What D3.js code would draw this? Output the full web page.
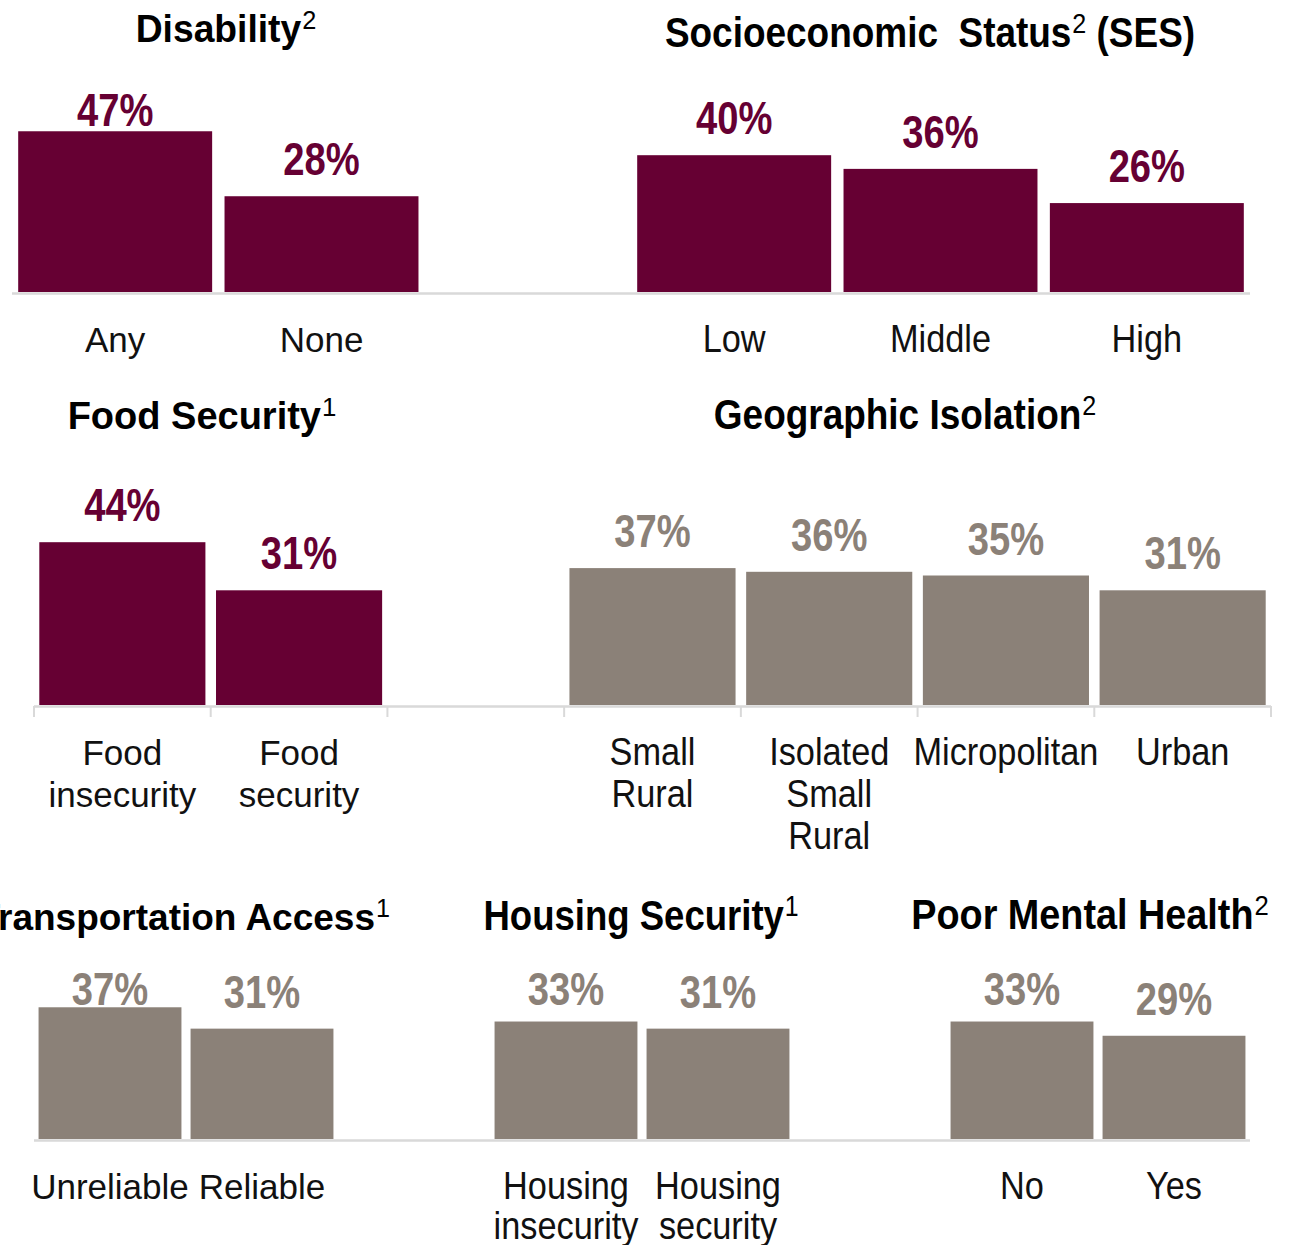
<!DOCTYPE html>
<html>
<head>
<meta charset="utf-8">
<script src="https://cdn.jsdelivr.net/npm/d3@7"></script>
<style>
  html, body { margin: 0; padding: 0; background: #ffffff; }
  svg { display: block; }
  text { font-family: "Liberation Sans", Arial, sans-serif; }
</style>
</head>
<body>
<svg id="chart" width="1296" height="1245"></svg>
<script>
// ---------------- DATA ----------------
const disabilityCategories = ["Any", "None"];
const disabilityValues = [47, 28];

const sesCategories = ["Low", "Middle", "High"];
const sesValues = [40, 36, 26];

const foodCategories = ["Food\ninsecurity", "Food\nsecurity"];
const foodValues = [44, 31];

const geoCategories = ["Small\nRural", "Isolated\nSmall\nRural", "Micropolitan", "Urban"];
const geoValues = [37, 36, 35, 31];

const transportCategories = ["Unreliable", "Reliable"];
const transportValues = [37, 31];

const housingCategories = ["Housing\ninsecurity", "Housing\nsecurity"];
const housingValues = [33, 31];

const mentalCategories = ["No", "Yes"];
const mentalValues = [33, 29];

const panelTitles = {
  disability: ["Disability", "2", ""],
  ses: ["Socioeconomic\u00A0\u00A0Status", "2", " (SES)"],
  food: ["Food Security", "1", ""],
  geo: ["Geographic Isolation", "2", ""],
  transport: ["Transportation Access", "1", ""],
  housing: ["Housing Security", "1", ""],
  mental: ["Poor Mental Health", "2", ""]
};

// ---------------- STYLE / LAYOUT ----------------
const MAROON = "#660033";
const GRAY = "#8b8178";
const AXIS = "#d9d9d9";

const panels = {
  disability: { cats: disabilityCategories, vals: disabilityValues, color: MAROON, narrow: false,
                title: { size: 38, sx: 0.98, x: 226, y: 42, anchor: "middle" } },
  ses:        { cats: sesCategories, vals: sesValues, color: MAROON, narrow: true,
                title: { size: 42, sx: 0.88, x: 930, y: 47, anchor: "middle" } },
  food:       { cats: foodCategories, vals: foodValues, color: MAROON, narrow: false,
                title: { size: 38, sx: 1.0, x: 202, y: 429, anchor: "middle" } },
  geo:        { cats: geoCategories, vals: geoValues, color: GRAY, narrow: true,
                title: { size: 42, sx: 0.88, x: 905, y: 429, anchor: "middle" } },
  transport:  { cats: transportCategories, vals: transportValues, color: GRAY, narrow: false,
                title: { size: 37, sx: 1.0, x: 390, y: 930, anchor: "end" } },
  housing:    { cats: housingCategories, vals: housingValues, color: GRAY, narrow: true,
                title: { size: 42, sx: 0.87, x: 641, y: 930, anchor: "middle" } },
  mental:     { cats: mentalCategories, vals: mentalValues, color: GRAY, narrow: true,
                title: { size: 42, sx: 0.9, x: 1090, y: 929, anchor: "middle" } }
};

// each row is one band scale; null = empty slot
const rows = [
  { slots: ["disability", "disability", null, "ses", "ses", "ses"],
    x0: 12, x1: 1250, base: 292, h50: 171, labelCeil: 126, catY: 352, lineH: 42, ticks: false },
  { slots: ["food", "food", null, "geo", "geo", "geo", "geo"],
    x0: 34, x1: 1271, base: 705, h50: 185, labelCeil: 0, catY: 765, lineH: 42, ticks: true },
  { slots: ["transport", "transport", null, "housing", "housing", null, "mental", "mental"],
    x0: 34, x1: 1250, base: 1139, h50: 178, labelCeil: 1005, catY: 1199, lineH: 40, ticks: false }
];

const svg = d3.select("#chart");

function drawText(g, x, y, str, o) {
  return g.append("text")
    .attr("transform", `translate(${x},${y}) scale(${o.sx},1)`)
    .attr("text-anchor", o.anchor || "middle")
    .attr("font-size", o.size)
    .attr("font-weight", o.weight || "normal")
    .attr("fill", o.fill || "#111")
    .text(str);
}

rows.forEach((row, ri) => {
  const counters = {};
  const slotData = row.slots.map((p, i) => {
    if (!p) return { key: "gap" + i, panel: null };
    counters[p] = (counters[p] || 0);
    const idx = counters[p]++;
    return { key: p + "|" + idx, panel: p, cat: panels[p].cats[idx], val: panels[p].vals[idx] };
  });

  const x = d3.scaleBand()
    .domain(slotData.map(d => d.key))
    .range([row.x0, row.x1])
    .paddingInner(0.06)
    .paddingOuter(0.03);

  const y = d3.scaleLinear().domain([0, 50]).range([row.base, row.base - row.h50]);

  const g = svg.append("g").attr("class", "row" + ri);
  const bars = slotData.filter(d => d.panel);

  g.selectAll("rect.bar").data(bars).enter().append("rect")
    .attr("class", "bar")
    .attr("x", d => x(d.key))
    .attr("width", x.bandwidth())
    .attr("y", d => y(d.val))
    .attr("height", d => y(0) - y(d.val))
    .attr("fill", d => panels[d.panel].color);

  g.append("line")
    .attr("x1", row.x0).attr("x2", row.x1)
    .attr("y1", y(0) + 1.5).attr("y2", y(0) + 1.5)
    .attr("stroke", AXIS).attr("stroke-width", 2.5);

  if (row.ticks) {
    const step = x.step();
    const bounds = slotData.map(d => x(d.key) - step * 0.03);
    bounds.push(row.x1);
    g.selectAll("line.tick").data(bounds).enter().append("line")
      .attr("class", "tick")
      .attr("x1", d => d).attr("x2", d => d)
      .attr("y1", y(0) + 1).attr("y2", y(0) + 12)
      .attr("stroke", AXIS).attr("stroke-width", 2);
  }

  bars.forEach(d => {
    const cx = x(d.key) + x.bandwidth() / 2;
    const ly = Math.max(y(d.val) - 21, row.labelCeil);
    drawText(g, cx, ly, d.val + "%", { size: 46, sx: 0.83, weight: "bold", fill: panels[d.panel].color });
  });

  bars.forEach(d => {
    const cx = x(d.key) + x.bandwidth() / 2;
    const narrow = panels[d.panel].narrow;
    d.cat.split("\n").forEach((line, li) => {
      drawText(g, cx, row.catY + li * row.lineH, line,
        { size: narrow ? 39 : 35, sx: narrow ? 0.88 : 1.0, fill: "#111" });
    });
  });
});

// titles
Object.keys(panels).forEach(k => {
  const t = panels[k].title;
  const [main, sup, tail] = panelTitles[k];
  const supSize = t.size * 0.68;
  const shift = supSize * 0.5;
  const txt = svg.append("text")
    .attr("transform", `translate(${t.x},${t.y}) scale(${t.sx},1)`)
    .attr("text-anchor", t.anchor)
    .attr("font-size", t.size)
    .attr("font-weight", "bold")
    .attr("fill", "#000");
  txt.append("tspan").text(main);
  txt.append("tspan").attr("font-size", supSize).attr("font-weight", "normal")
    .attr("dx", 1).attr("dy", -shift).text(sup);
  if (tail) txt.append("tspan").attr("dy", shift).text(tail);
});
</script>
</body>
</html>
